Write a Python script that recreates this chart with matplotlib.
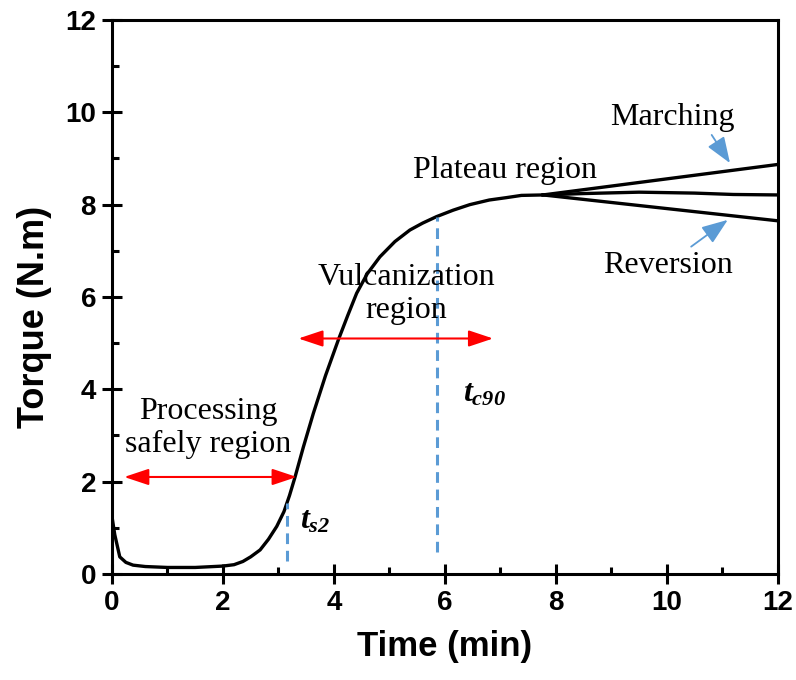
import matplotlib
matplotlib.use("Agg")
import matplotlib.pyplot as plt
from matplotlib.ticker import MultipleLocator

# curva reométrica
tiempo = [0, 0.05, 0.14, 0.25, 0.38, 0.6, 1.0, 1.5, 2.0, 2.2, 2.36, 2.5, 2.67,
          2.82, 2.97, 3.1, 3.2, 3.3, 3.45, 3.63, 3.85, 4.08, 4.25, 4.41, 4.6,
          4.83, 5.1, 5.37, 5.6, 5.85, 6.15, 6.45, 6.8, 7.1, 7.38, 7.77, 8.5,
          9.5, 10.5, 11.2, 12]
torque = [1.24, 0.85, 0.37, 0.25, 0.19, 0.16, 0.14, 0.14, 0.17, 0.2, 0.27, 0.37,
          0.52, 0.75, 1.03, 1.35, 1.7, 2.1, 2.75, 3.48, 4.3, 5.07, 5.6, 6.08,
          6.5, 6.87, 7.2, 7.45, 7.6, 7.74, 7.88, 8.0, 8.1, 8.15, 8.2, 8.21,
          8.24, 8.27, 8.25, 8.22, 8.21]

# ramas marching / reversion
rama_t = [7.77, 12]
marching_y = [8.21, 8.87]
reversion_y = [8.21, 7.65]

# tiempos característicos
ts2 = 3.16
ts2_rango = [0.27, 1.54]
tc90 = 5.86
tc90_rango = [0.47, 7.74]

plt.rcParams['mathtext.fontset'] = 'custom'
plt.rcParams['mathtext.it'] = 'Liberation Serif:bold:italic'
plt.rcParams['mathtext.rm'] = 'Liberation Serif:bold:italic'

fig = plt.figure(figsize=(7.96, 6.8), dpi=100)
ax = fig.add_axes([0.1407, 0.156, 0.8363, 0.8146])

ax.plot(tiempo, torque, color='black', lw=2.4)
ax.plot(rama_t, marching_y, color='black', lw=2.4)
ax.plot(rama_t, reversion_y, color='black', lw=2.4)

azul = '#5b9bd5'
ax.plot([ts2, ts2], ts2_rango, color=azul, lw=2.2, ls=(0, (3.5, 2.2)))
ax.plot([tc90, tc90], tc90_rango, color=azul, lw=2.2, ls=(0, (3.5, 2.2)))

ax.set_xlim(0, 12)
ax.set_ylim(0, 12)
ax.xaxis.set_major_locator(MultipleLocator(2))
ax.xaxis.set_minor_locator(MultipleLocator(1))
ax.yaxis.set_major_locator(MultipleLocator(2))
ax.yaxis.set_minor_locator(MultipleLocator(1))

for s in ax.spines.values():
    s.set_linewidth(2.2)

ax.tick_params(which='major', direction='inout', length=15, width=2.2,
               labelsize=20, pad=4, top=False, right=False)
ax.tick_params(which='minor', direction='in', length=5, width=2.2,
               top=False, right=False)
for lab in ax.get_xticklabels() + ax.get_yticklabels():
    lab.set_fontweight('bold')
    lab.set_family('Liberation Sans')

ax.set_xlabel('Time (min)', fontsize=25, fontweight='bold',
              family='Liberation Sans', labelpad=10)
ax.set_ylabel('Torque (N.m)', fontsize=26, fontweight='bold',
              family='Liberation Sans')
ax.yaxis.set_label_coords(-0.09, 0.464)

serif = dict(family='Liberation Serif', fontsize=23, color='black')

ax.text(1.73, 3.16, 'Processing\nsafely region', ha='center', va='center',
        linespacing=1.2, **serif)
ax.text(5.3, 6.06, 'Vulcanization\nregion', ha='center', va='center',
        linespacing=1.2, **serif)
ax.text(7.08, 8.75, 'Plateau region', ha='center', va='center', **serif)
ax.text(10.11, 9.88, 'Marching', ha='center', va='center', **serif)
ax.text(10.02, 6.69, 'Reversion', ha='center', va='center', **serif)

ax.text(3.39, 1.17, r'$t_{s2}$', ha='left', va='center', fontsize=23)
ax.text(6.33, 3.92, r'$t_{c90}$', ha='left', va='center', fontsize=23)

# flechas rojas de regiones
rojo = dict(arrowstyle='<|-|>,head_length=0.75,head_width=0.25', color='red',
            lw=1.5, shrinkA=0, shrinkB=0, mutation_scale=20)
ax.annotate('', xy=(3.33, 2.1), xytext=(0.22, 2.1), arrowprops=rojo)
ax.annotate('', xy=(6.87, 5.1), xytext=(3.36, 5.1), arrowprops=rojo)

# flechas azules
azul_fl = dict(arrowstyle='-|>,head_length=0.8,head_width=0.3', color=azul,
               lw=1.3, shrinkA=0, shrinkB=0, mutation_scale=20)
ax.annotate('', xy=(11.14, 8.9), xytext=(10.81, 9.51), arrowprops=azul_fl)
ax.annotate('', xy=(11.1, 7.67), xytext=(10.44, 7.09), arrowprops=azul_fl)

fig.savefig('out.png', dpi=100)
